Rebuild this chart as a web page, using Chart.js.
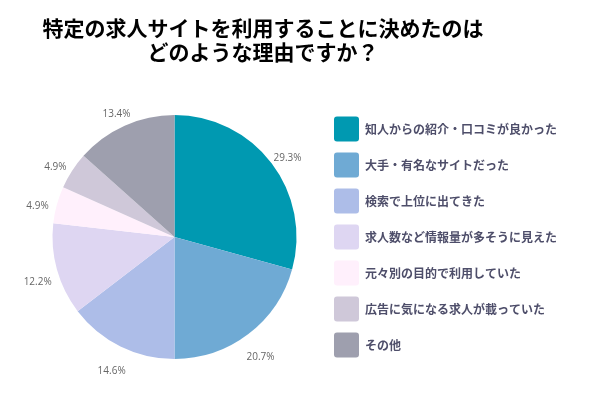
<!DOCTYPE html>
<html>
<head>
<meta charset="utf-8">
<script src="https://cdn.jsdelivr.net/npm/chart.js@4/dist/chart.umd.min.js"></script>
<style>
  html, body { margin: 0; padding: 0; background: #fff; }
  #wrap { width: 598px; height: 396px; }
</style>
</head>
<body>
<div id="wrap"><canvas id="reasonChart" width="598" height="396"></canvas></div>
<script>
        const labels = ["知人からの紹介・口コミが良かった", "大手・有名なサイトだった", "検索で上位に出てきた", "求人数など情報量が多そうに見えた", "元々別の目的で利用していた", "広告に気になる求人が載っていた", "その他"];
        const values = [29.3, 20.7, 14.6, 12.2, 4.9, 4.9, 13.4];
        const colors = ['#0099b1', '#6faad4', '#adbde8', '#ded6f2', '#fff0fc', '#cfc8d9', '#9e9fae'];

        // 外側にパーセント表示
        const outsideLabels = {
            id: 'outsideLabels',
            afterLayout(chart) {
                // タイトルは凡例より少し左寄せ
                const t = chart.titleBlock;
                if (t) { t.left = 0; t.right = 526; t.width = 526; }
            },
            afterDatasetsDraw(chart) {
                const ctx = chart.ctx;
                const meta = chart.getDatasetMeta(0);
                ctx.save();
                ctx.font = '10px "Open Sans"';
                ctx.fillStyle = '#666';
                ctx.textAlign = 'center';
                ctx.textBaseline = 'middle';
                meta.data.forEach((arc, i) => {
                    const p = arc.getProps(['x', 'y', 'startAngle', 'endAngle', 'outerRadius'], true);
                    const mid = (p.startAngle + p.endAngle) / 2;
                    const r = p.outerRadius + 20;
                    ctx.fillText(values[i].toFixed(1) + '%', p.x + Math.cos(mid) * r, p.y + Math.sin(mid) * r + 7);
                });
                ctx.restore();
            }
        };

        const data = {
            labels: labels,
            datasets: [{
                data: values,
                backgroundColor: colors,
                borderWidth: 0,
                radius: 122
            }]
        };

        const config = {
            type: 'pie',
            data: data,
            options: {
                responsive: false,
                animation: false,
                layout: { padding: { top: 0, bottom: 14, left: 26, right: 31 } },
                plugins: {
                    legend: {
                        position: 'right',
                        fullSize: false,
                        labels: {
                            boxWidth: 25,
                            boxHeight: 25,
                            padding: 11,
                            useBorderRadius: true,
                            borderRadius: 3,
                            color: '#4e4e6a',
                            font: { family: 'Noto Sans CJK JP', size: 12, weight: 'bold' }
                        }
                    },
                    title: {
                        display: true,
                        text: ['特定の求人サイトを利用することに決めたのは', 'どのような理由ですか？'],
                        color: '#000',
                        font: { family: 'Noto Sans CJK JP', size: 21, weight: 'bold', lineHeight: 24 / 21 },
                        padding: { top: 16, bottom: 28 }
                    },
                    tooltip: { enabled: false }
                }
            },
            plugins: [outsideLabels]
        };
        new Chart(document.getElementById('reasonChart'), config);
</script>
</body>
</html>
